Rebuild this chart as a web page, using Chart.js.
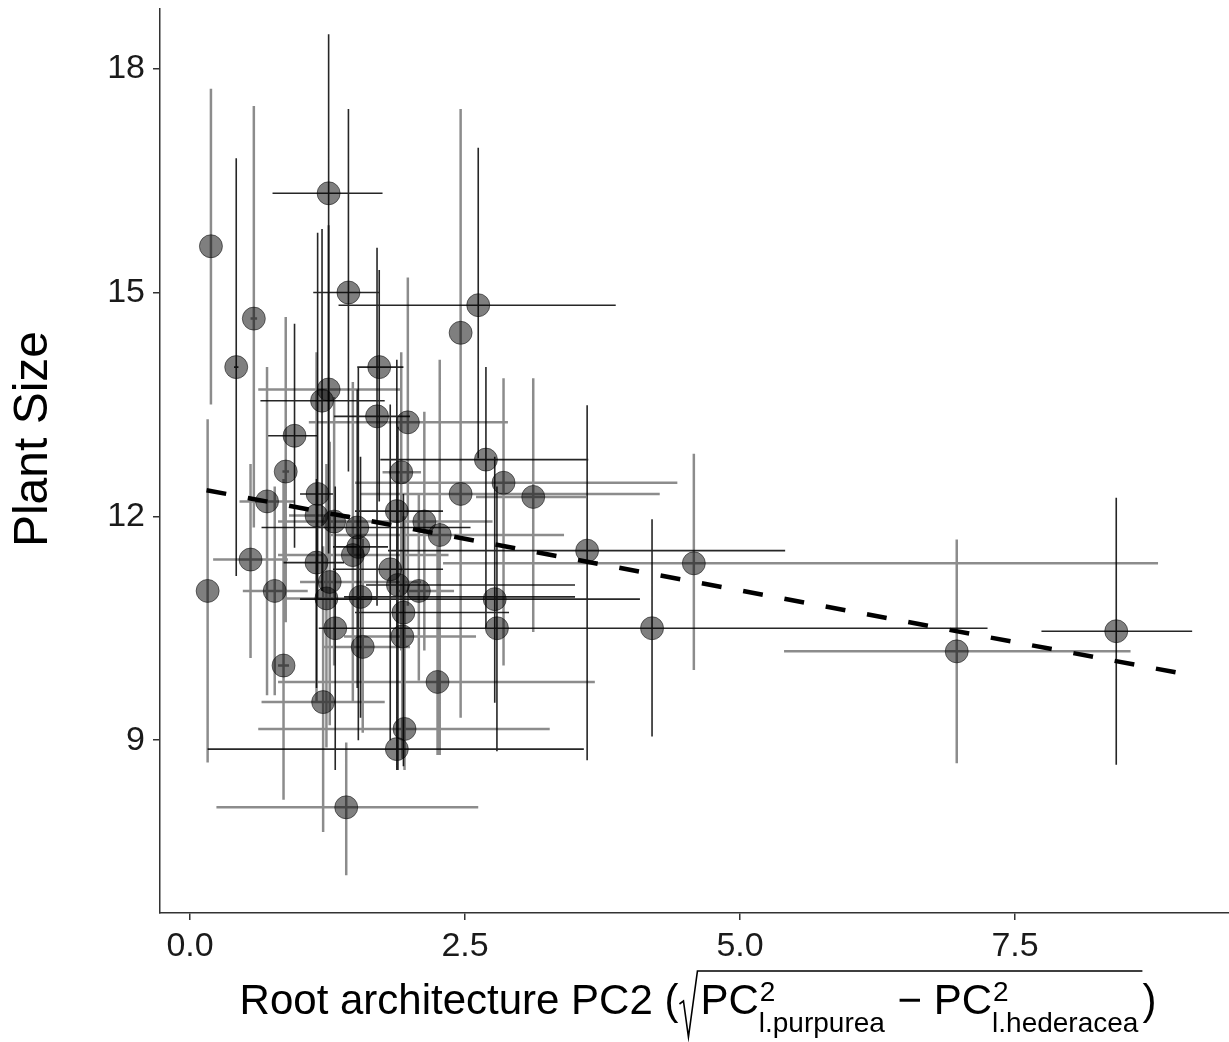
<!DOCTYPE html>
<html>
<head>
<meta charset="utf-8">
<script src="https://cdn.jsdelivr.net/npm/chart.js@4.4.1/dist/chart.umd.min.js"></script>
<style>
  html, body { margin: 0; padding: 0; background: #fff; overflow: hidden; }
  #wrap { width: 1229px; height: 1042px; }
</style>
</head>
<body>
<div id="wrap"><canvas id="chart" width="1229" height="1042"></canvas></div>
<script>
// --- Data ---
// Series A: points whose error bars are drawn in grey
var aX   = [0.19, 0.58, 0.16, 2.46, 1.26, 1.98, 0.87, 1.92, 2.85, 2.46, 3.12, 0.70, 1.15, 1.31, 2.13, 2.27, 1.48, 0.55, 1.27, 2.08, 0.77, 1.24, 1.93, 1.57, 0.85, 2.25, 1.21, 1.95, 1.42, 4.58, 6.97];
var aY   = [15.62, 14.65, 11.00, 14.46, 13.70, 13.26, 12.60, 12.59, 12.45, 12.30, 12.26, 12.20, 12.01, 11.93, 11.93, 11.75, 11.48, 11.42, 11.12, 11.00, 11.00, 10.90, 10.39, 10.25, 10.00, 9.78, 9.51, 9.15, 8.10, 11.37, 10.19];
var aXLo = [0.19, 0.55, 0.16, 2.46, 0.62, 1.08, 0.84, 1.75, 1.50, 1.55, 2.60, 0.45, 0.90, 0.80, 1.60, 1.25, 0.80, 0.21, 1.00, 1.90, 0.48, 0.85, 1.40, 1.20, 0.80, 0.80, 0.65, 0.62, 0.24, 2.30, 5.40];
var aXHi = [0.19, 0.61, 0.16, 2.46, 1.91, 2.89, 0.90, 2.10, 4.43, 4.27, 3.60, 0.95, 1.45, 1.90, 2.75, 3.40, 2.35, 0.89, 2.10, 2.40, 1.07, 1.70, 2.60, 2.00, 0.90, 3.68, 1.77, 3.27, 2.62, 8.80, 8.55];
var aYLo = [13.50, 11.85, 8.70, 11.60, 11.40, 10.80, 10.58, 10.20, 10.00, 9.30, 10.45, 9.60, 9.50, 10.00, 10.20, 8.80, 9.50, 10.10, 9.20, 9.80, 9.60, 8.90, 8.75, 9.10, 8.20, 8.80, 7.77, 8.60, 7.19, 9.94, 8.69];
var aYHi = [17.73, 17.50, 13.30, 17.46, 15.90, 15.20, 14.67, 14.20, 13.85, 14.00, 13.85, 14.00, 14.20, 13.60, 13.40, 14.10, 13.80, 12.70, 13.00, 12.30, 12.40, 12.70, 12.00, 11.70, 12.50, 11.60, 11.60, 12.00, 8.97, 12.84, 11.69];

// Series B: points whose error bars are drawn in black
var bX   = [0.42, 1.26, 1.44, 2.62, 1.72, 1.20, 1.70, 0.95, 2.69, 1.16, 1.88, 1.52, 1.53, 1.15, 1.82, 1.89, 1.55, 2.77, 1.94, 1.32, 2.79, 1.88, 3.61, 4.20, 8.42];
var bY   = [14.00, 16.33, 15.00, 14.83, 14.00, 13.55, 13.34, 13.08, 12.76, 12.30, 12.07, 11.85, 11.59, 11.38, 11.29, 11.08, 10.92, 10.89, 10.71, 10.50, 10.50, 8.88, 11.54, 10.50, 10.46];
var bXLo = [0.40, 0.75, 1.12, 1.35, 1.52, 0.64, 1.31, 0.71, 1.73, 1.00, 1.50, 0.65, 1.30, 0.85, 1.30, 1.60, 1.40, 1.00, 1.50, 1.17, 1.17, 0.16, 1.80, 4.20, 7.74];
var bXHi = [0.44, 1.75, 1.72, 3.87, 1.94, 1.77, 2.00, 1.16, 3.62, 1.30, 2.30, 2.55, 1.80, 1.40, 2.30, 3.50, 3.50, 4.09, 2.90, 2.10, 7.25, 3.58, 5.41, 4.20, 9.11];
var bYLo = [11.20, 11.50, 12.60, 12.78, 12.20, 11.00, 10.80, 11.58, 10.50, 10.90, 8.60, 9.70, 9.00, 9.70, 9.00, 8.60, 9.30, 9.50, 8.65, 8.60, 8.85, 8.60, 8.73, 9.05, 8.67];
var bYHi = [16.80, 18.46, 17.46, 16.94, 15.30, 15.85, 15.60, 14.58, 14.00, 15.80, 14.10, 13.70, 14.00, 12.50, 13.50, 13.20, 12.80, 12.80, 12.30, 12.40, 12.40, 12.00, 13.49, 11.96, 12.25];

// Fitted trend line (end points)
var fitX = [0.15, 9.10];
var fitY = [12.35, 9.87];

// Axis ticks
var xTickVals = [0, 2.5, 5, 7.5];
var xTickLabels = ['0.0', '2.5', '5.0', '7.5'];
var yTickVals = [9, 12, 15, 18];
var yTickLabels = ['9', '12', '15', '18'];

var FONT = '"Liberation Sans", Arial, sans-serif';

function toPoints(xs, ys) {
    var out = [];
    for (var i = 0; i < xs.length; i++) out.push({ x: xs[i], y: ys[i] });
    return out;
}

// Error bars for one series, drawn through the chart scales
function drawBars(chart, xs, ys, xlo, xhi, ylo, yhi, colour, width) {
    var sx = chart.scales.x, sy = chart.scales.y, c = chart.ctx;
    c.save();
    c.strokeStyle = colour;
    c.lineWidth = width;
    c.beginPath();
    for (var i = 0; i < xs.length; i++) {
        var px = sx.getPixelForValue(xs[i]), py = sy.getPixelForValue(ys[i]);
        if (yhi[i] > ylo[i]) { //vertical bar
            c.moveTo(px, sy.getPixelForValue(ylo[i]));
            c.lineTo(px, sy.getPixelForValue(yhi[i]));
        }
        if (xhi[i] > xlo[i]) { //horizontal bar
            c.moveTo(sx.getPixelForValue(xlo[i]), py);
            c.lineTo(sx.getPixelForValue(xhi[i]), py);
        }
    }
    c.stroke();
    c.restore();
}

var errorBarPlugin = {
    id: 'errorBars',
    beforeDatasetsDraw: function (chart) {
        var a = chart.chartArea;
        chart.ctx.save();
        chart.ctx.beginPath();
        chart.ctx.rect(a.left, a.top, a.right - a.left, a.bottom - a.top);
        chart.ctx.clip();
        drawBars(chart, aX, aY, aXLo, aXHi, aYLo, aYHi, 'rgba(0,0,0,0.45)', 2.5);
        drawBars(chart, bX, bY, bXLo, bXHi, bYLo, bYHi, 'rgba(0,0,0,0.85)', 1.6);
        chart.ctx.restore();
    }
};

// Axis titles (x title has a square root with sub/superscripts)
var titlePlugin = {
    id: 'axisTitles',
    afterDraw: function (chart) {
        var c = chart.ctx;
        c.save();
        c.fillStyle = '#000';
        c.strokeStyle = '#000';

        // y title
        c.font = '48px ' + FONT;
        c.textAlign = 'center';
        c.textBaseline = 'middle';
        c.translate(34, 439);
        c.rotate(-Math.PI / 2);
        c.fillText('Plant Size', 0, 0);
        c.setTransform(1, 0, 0, 1, 0, 0);

        // x title
        var big = '42px ' + FONT, small = '28px ' + FONT;
        var base = 1014;
        c.textAlign = 'left';
        c.textBaseline = 'alphabetic';
        var lead = 'Root architecture PC2 (';
        c.font = big;
        var wLead = c.measureText(lead).width;
        var wPC = c.measureText('PC').width;
        var wMinus = c.measureText(' \u2212 ').width;
        var wClose = c.measureText(')').width;
        c.font = small;
        var wSub1 = c.measureText('l.purpurea').width;
        var wSub2 = c.measureText('l.hederacea').width;
        var rad = 22;
        var total = wLead + rad + wPC + wSub1 + 1 + wMinus + wPC + wSub2 + 4 + wClose;
        var x = 698 - total / 2;

        c.font = big;
        c.fillText(lead, x, base);
        x += wLead;
        // radical sign
        var overY = 971;
        c.lineWidth = 1.6;
        c.beginPath();
        c.moveTo(x + 1, base - 10);
        c.lineTo(x + 5, base - 13);
        c.lineTo(x + 10, base + 23);
        c.lineTo(x + 19, overY);
        x += rad;
        c.fillText('PC', x, base);
        x += wPC;
        c.font = small;
        c.fillText('2', x + 1, base - 13);
        c.fillText('l.purpurea', x, base + 18);
        x += wSub1 + 1;
        c.font = big;
        c.fillText(' \u2212 ', x, base);
        x += wMinus;
        c.fillText('PC', x, base);
        x += wPC;
        c.font = small;
        c.fillText('2', x + 1, base - 13);
        c.fillText('l.hederacea', x, base + 18);
        x += wSub2 + 4;
        c.lineTo(x, overY);
        c.stroke();
        c.font = big;
        c.fillText(')', x, base);
        c.restore();
    }
};

var data = {
    datasets: [
        {
            type: 'scatter',
            label: 'grey bars',
            data: toPoints(aX, aY),
            pointRadius: 11.5,
            pointBackgroundColor: 'rgba(0,0,0,0.5)',
            pointBorderColor: 'rgba(0,0,0,0.5)',
            pointBorderWidth: 1
        },
        {
            type: 'scatter',
            label: 'black bars',
            data: toPoints(bX, bY),
            pointRadius: 11.5,
            pointBackgroundColor: 'rgba(0,0,0,0.5)',
            pointBorderColor: 'rgba(0,0,0,0.5)',
            pointBorderWidth: 1
        },
        {
            type: 'line',
            label: 'fit',
            data: toPoints(fitX, fitY),
            borderColor: '#000',
            borderWidth: 4.5,
            borderDash: [20, 22],
            pointRadius: 0,
            fill: false
        }
    ]
};

var axisColour = '#333';

new Chart(document.getElementById('chart').getContext('2d'), {
    type: 'scatter',
    data: data,
    plugins: [errorBarPlugin, titlePlugin],
    options: {
        responsive: false,
        animation: false,
        events: [],
        layout: { autoPadding: false, padding: { top: 9, right: 0, left: 0, bottom: 0 } },
        plugins: { legend: { display: false }, tooltip: { enabled: false } },
        scales: {
            x: {
                type: 'linear',
                min: -0.273,
                max: 9.445,
                afterBuildTicks: function (s) { s.ticks = xTickVals.map(function (v) { return { value: v }; }); },
                afterFit: function (s) { s.height = 129; s.paddingLeft = 0; s.paddingRight = 0; },
                ticks: {
                    callback: function (v, i) { return xTickLabels[i]; },
                    font: { size: 34, family: FONT },
                    color: '#1a1a1a',
                    padding: 6,
                    maxRotation: 0
                },
                grid: { drawOnChartArea: false, drawTicks: true, tickLength: 7, color: axisColour, lineWidth: 1.5 },
                border: { display: true, color: axisColour, width: 1.5 }
            },
            y: {
                type: 'linear',
                min: 6.683,
                max: 18.8,
                afterBuildTicks: function (s) { s.ticks = yTickVals.map(function (v) { return { value: v }; }); },
                afterFit: function (s) { s.width = 160; s.paddingTop = 0; s.paddingBottom = 0; },
                ticks: {
                    callback: function (v, i) { return yTickLabels[i]; },
                    font: { size: 34, family: FONT },
                    color: '#1a1a1a',
                    padding: 8
                },
                grid: { drawOnChartArea: false, drawTicks: true, tickLength: 7, color: axisColour, lineWidth: 1.5 },
                border: { display: true, color: axisColour, width: 1.5 }
            }
        }
    }
});
</script>
</body>
</html>
